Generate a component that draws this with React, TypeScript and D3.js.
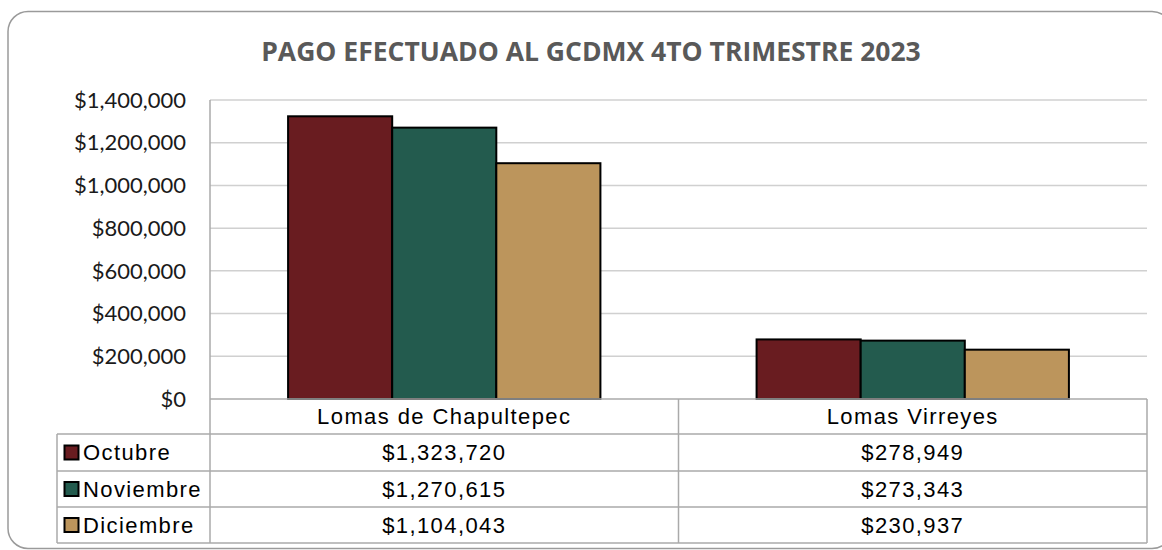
import React from "react";
import * as d3 from "d3";

const categories = ["Lomas de Chapultepec", "Lomas Virreyes"];
const seriesNames = ["Octubre", "Noviembre", "Diciembre"];
const octubre = [1323720, 278949];
const noviembre = [1270615, 273343];
const diciembre = [1104043, 230937];
const seriesColors = ["#691C20", "#235B4E", "#BC955C"];
const yTicks = [0, 200000, 400000, 600000, 800000, 1000000, 1200000, 1400000];
const title = "PAGO EFECTUADO AL GCDMX 4TO TRIMESTRE 2023";

const W = 1162;
const H = 550;

export default function App() {
  const series = [octubre, noviembre, diciembre];
  const left = 210;
  const right = 1147;
  const top = 100;
  const bottom = 399;
  const tableLeft = 57;
  const rowEdges = [399, 434, 471, 507, 543];

  const y = d3.scaleLinear().domain([0, 1400000]).range([bottom, top]);
  const x0 = d3.scaleBand<string>().domain(categories).range([left, right]).paddingInner(0).paddingOuter(0);
  const catW = x0.bandwidth();
  const barW = catW / 4.5;
  const x1 = d3.scaleBand<string>().domain(seriesNames).range([barW * 0.75, barW * 3.75]);

  const yFmt = (v: number) => "$" + d3.format(",")(v);
  const cellFmt = (v: number) => "$" + d3.format(",")(v);

  const tableFont = "'Liberation Sans', Arial, sans-serif";
  const gridColor = "#d0d0d0";
  const tableColor = "#aaaaaa";

  return (
    <svg width={W} height={H} style={{ position: "absolute", left: 0, top: 0 }}>
      <rect x={8} y={11.5} width={1164} height={537} rx={20} ry={20} fill="#fff" stroke="#9a9a9a" strokeWidth={1.5} />
      <text
        x={591}
        y={61}
        textAnchor="middle"
        fontFamily="'Open Sans', Lato, sans-serif"
        fontWeight={700}
        fontSize={26.5}
        fill="#595959"
      >
        {title}
      </text>

      {yTicks.map((t) => (
        <g key={t}>
          {t !== 0 && <line x1={left} x2={right} y1={y(t)} y2={y(t)} stroke={gridColor} strokeWidth={1.5} />}
          <text
            x={186}
            y={y(t)}
            dy="0.35em"
            textAnchor="end"
            fontFamily="Lato, 'Open Sans', sans-serif"
            fontSize={22}
            fill="#1a1a1a"
          >
            {yFmt(t)}
          </text>
        </g>
      ))}

      {categories.map((c, ci) => (
        <g key={c}>
          {series.map((s, si) => {
            const bx = (x0(c) as number) + (x1(seriesNames[si]) as number);
            return (
              <rect
                key={si}
                x={bx}
                y={y(s[ci])}
                width={x1.bandwidth()}
                height={y(0) - y(s[ci])}
                fill={seriesColors[si]}
                stroke="#000"
                strokeWidth={2}
              />
            );
          })}
        </g>
      ))}

      <g stroke={tableColor} strokeWidth={1.5} fill="none">
        <line x1={left} x2={right} y1={bottom} y2={bottom} />
        {rowEdges.slice(1).map((ry) => (
          <line key={ry} x1={tableLeft} x2={right} y1={ry} y2={ry} />
        ))}
        <line x1={left} x2={left} y1={top} y2={rowEdges[4]} />
        <line x1={tableLeft} x2={tableLeft} y1={rowEdges[1]} y2={rowEdges[4]} />
        {categories.map((c) => (
          <line key={c} x1={(x0(c) as number) + catW} x2={(x0(c) as number) + catW} y1={bottom} y2={rowEdges[4]} />
        ))}
      </g>

      {categories.map((c) => (
        <text
          key={c}
          x={(x0(c) as number) + catW / 2}
          y={(rowEdges[0] + rowEdges[1]) / 2}
          dy="0.35em"
          textAnchor="middle"
          fontFamily={tableFont}
          fontSize={22}
          letterSpacing={1.4}
          fill="#000"
        >
          {c}
        </text>
      ))}

      {seriesNames.map((n, si) => {
        const cy = (rowEdges[si + 1] + rowEdges[si + 2]) / 2;
        return (
          <g key={n}>
            <rect x={64.5} y={cy - 7} width={14} height={14} fill={seriesColors[si]} stroke="#000" strokeWidth={2} />
            <text x={83} y={cy} dy="0.35em" fontFamily={tableFont} fontSize={22} letterSpacing={1.4} fill="#000">
              {n}
            </text>
            {categories.map((c, ci) => (
              <text
                key={c}
                x={(x0(c) as number) + catW / 2}
                y={cy}
                dy="0.35em"
                textAnchor="middle"
                fontFamily={tableFont}
                fontSize={22}
                letterSpacing={1.4}
                fill="#000"
              >
                {cellFmt(series[si][ci])}
              </text>
            ))}
          </g>
        );
      })}
    </svg>
  );
}
